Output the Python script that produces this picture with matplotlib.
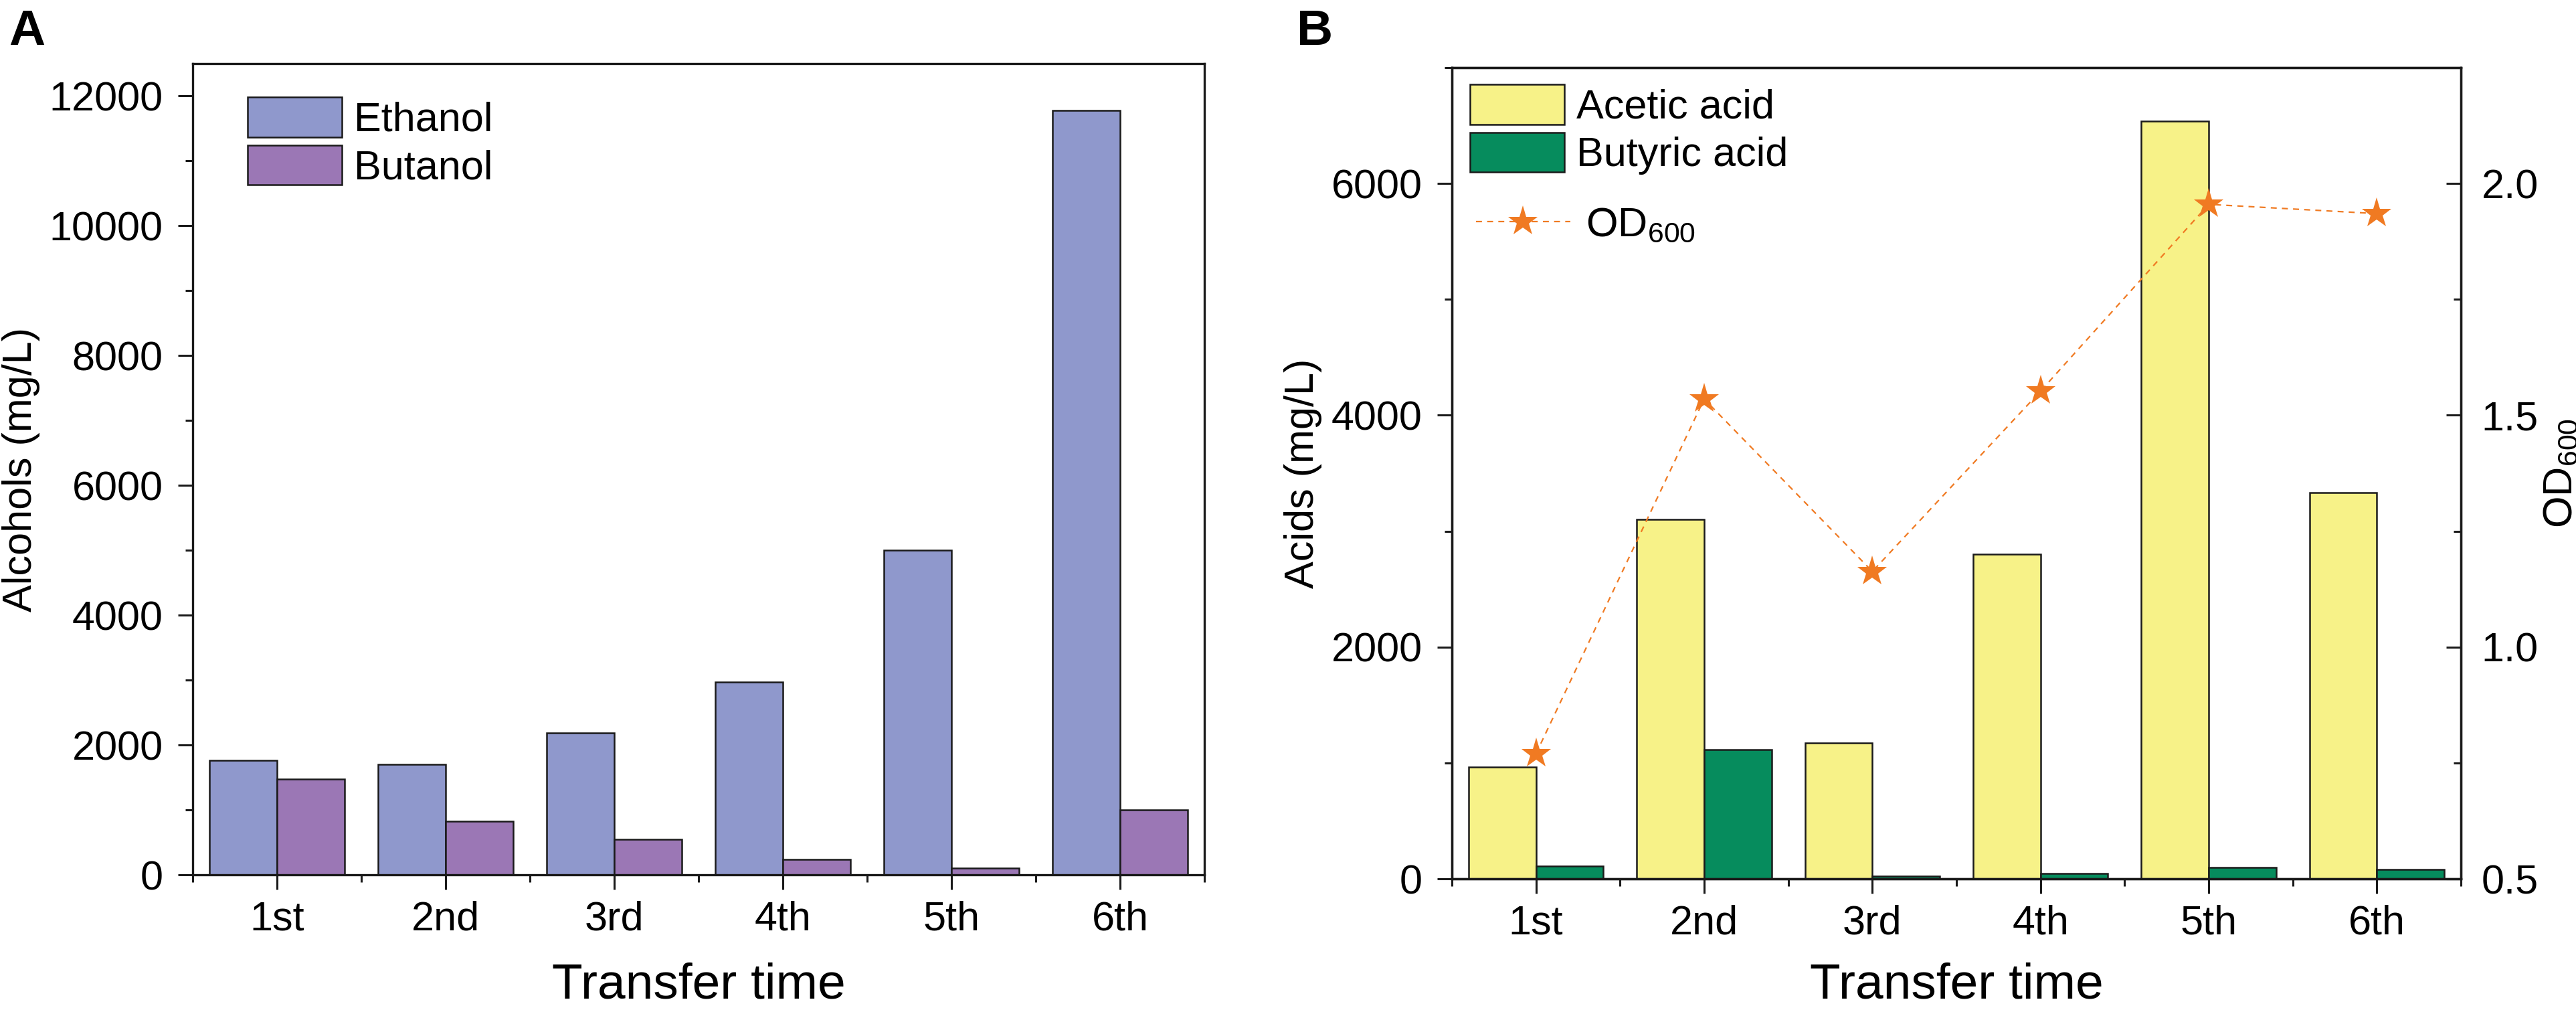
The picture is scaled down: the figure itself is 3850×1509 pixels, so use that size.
import numpy as np
import matplotlib
matplotlib.use('Agg')
import matplotlib.pyplot as plt
from matplotlib.ticker import MultipleLocator, FixedLocator, FormatStrFormatter

plt.rcParams['font.family'] = ['Liberation Sans', 'DejaVu Sans']
plt.rcParams['mathtext.default'] = 'regular'

# data
transfers = ['1st', '2nd', '3rd', '4th', '5th', '6th']
ethanol = [1760, 1700, 2190, 2970, 5000, 11780]      # mg/L
butanol = [1470, 820, 550, 240, 100, 1000]           # mg/L
acetic = [965, 3100, 1170, 2800, 6540, 3330]         # mg/L
butyric = [112, 1115, 22, 47, 97, 81]                # mg/L
od600 = [0.77, 1.535, 1.163, 1.552, 1.955, 1.935]

c_eth = '#8f98cc'
c_but = '#9b77b5'
c_ace = '#f7f288'
c_buty = '#068c5d'
c_od = '#f07a22'
edge = '#1a1a1a'

W, H = 3850, 1509
fig = plt.figure(figsize=(W/100, H/100), dpi=100)

def px_axes(l, r, t, b):
    return fig.add_axes([l/W, (H-b)/H, (r-l)/W, (b-t)/H])

axA = px_axes(288, 1800, 95, 1307)
axB = px_axes(2170, 3678, 101, 1313)

tick_fs = 44
lab_fs = 44
x = np.arange(1, 7)
bw = 0.4


def style_axes(ax, l, r):
    for s in ax.spines.values():
        s.set_linewidth(2.4)
        s.set_color(edge)
    ax.set_xlim(0.5, 6.5)
    ax.set_xticks(x)
    ax.set_xticklabels(transfers)
    ax.xaxis.set_minor_locator(FixedLocator(np.arange(0.5, 7, 1)))
    ax.tick_params(which='major', length=16, width=2.2, color=edge, labelsize=tick_fs, direction='out')
    ax.tick_params(which='minor', length=8, width=2.2, color=edge, direction='out')
    ax.tick_params(axis='y', pad=16)
    ax.tick_params(axis='x', which='major', pad=12)
    ax.tick_params(top=False, right=False, which='both')
    # x title sits right on the lower edge of the figure
    fig.text((l + r)/2/W, 1 - 1492/H, 'Transfer time', fontsize=54, ha='center', va='baseline')


# ---- panel A
axA.bar(x - bw/2, ethanol, bw, color=c_eth, edgecolor=edge, linewidth=1.8, label='Ethanol')
axA.bar(x + bw/2, butanol, bw, color=c_but, edgecolor=edge, linewidth=1.8, label='Butanol')
style_axes(axA, 288, 1800)
axA.set_ylim(0, 12500)
axA.yaxis.set_major_locator(MultipleLocator(2000))
axA.yaxis.set_minor_locator(MultipleLocator(1000))
axA.set_ylabel('Alcohols (mg/L)', fontsize=lab_fs, labelpad=10)
axA.legend(loc='upper left', bbox_to_anchor=(370/W, 1-145/H), bbox_transform=fig.transFigure,
           frameon=False, borderpad=0, borderaxespad=0, handlelength=2.3, handleheight=1.13,
           labelspacing=0.13, handletextpad=0.3, fontsize=44)

# ---- panel B
axB.bar(x - bw/2, acetic, bw, color=c_ace, edgecolor=edge, linewidth=1.8, label='Acetic acid')
axB.bar(x + bw/2, butyric, bw, color=c_buty, edgecolor=edge, linewidth=1.8, label='Butyric acid')
style_axes(axB, 2170, 3678)
axB.set_ylim(0, 7000)
axB.yaxis.set_major_locator(MultipleLocator(2000))
axB.yaxis.set_minor_locator(MultipleLocator(1000))
axB.set_ylabel('Acids (mg/L)', fontsize=lab_fs, labelpad=10)

axB2 = axB.twinx()
axB2.plot(x, od600, color=c_od, linestyle=(0, (4, 3.5)), linewidth=1.6,
          marker='*', markersize=34, markeredgewidth=0, label='OD$_{600}$')
axB2.set_ylim(0.5, 2.25)
axB2.yaxis.set_major_locator(FixedLocator([0.5, 1.0, 1.5, 2.0]))
axB2.yaxis.set_minor_locator(FixedLocator([0.75, 1.25, 1.75]))
axB2.yaxis.set_major_formatter(FormatStrFormatter('%.1f'))
axB2.tick_params(axis='y', which='major', length=16, width=2.2, color=edge, labelsize=tick_fs,
                 direction='in', pad=22)
axB2.tick_params(axis='y', which='minor', length=8, width=2.2, color=edge, direction='in')
for s in axB2.spines.values():
    s.set_linewidth(2.4)
    s.set_color(edge)
axB2.set_ylabel('OD$_{600}$', fontsize=lab_fs, labelpad=4)

axB.legend(loc='upper left', bbox_to_anchor=(2197/W, 1-126/H), bbox_transform=fig.transFigure,
           frameon=False, borderpad=0, borderaxespad=0, handlelength=2.3, handleheight=1.13,
           labelspacing=0.13, handletextpad=0.3, fontsize=44)
axB2.legend(loc='center left', bbox_to_anchor=(2206/W, 1-337/H), bbox_transform=fig.transFigure,
            frameon=False, borderpad=0, borderaxespad=0, handlelength=2.3, numpoints=1,
            handletextpad=0.38, fontsize=44)

fig.text(13/W, 1-67/H, 'A', fontsize=54, fontweight='bold', va='baseline')
fig.text(1938/W, 1-67/H, 'B', fontsize=54, fontweight='bold', va='baseline')

fig.savefig('out.png', dpi=100)
